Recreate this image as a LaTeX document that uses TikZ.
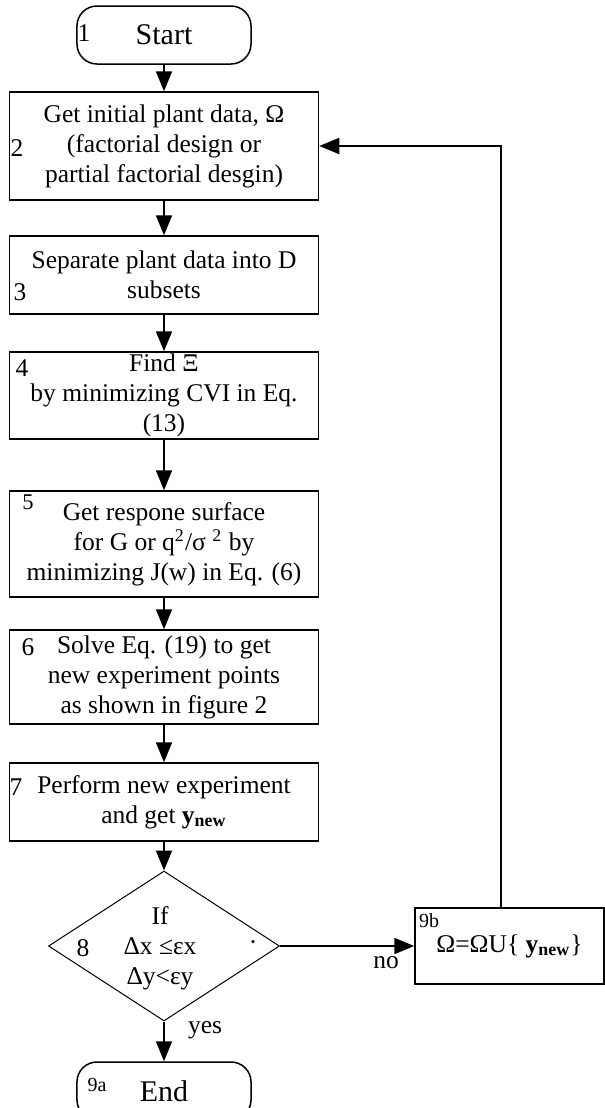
\documentclass[tikz,border=0pt]{standalone}
\usepackage{fontspec}
\setmainfont{Liberation Serif}
\usetikzlibrary{arrows.meta,shapes.geometric}

\begin{document}
\begin{tikzpicture}[x=0.4pt, y=-0.4pt,
    box/.style={draw, line width=0.6pt, inner sep=0pt, minimum width=123.6pt,
        align=center, font=\fontsize{10.2}{12}\selectfont},
    term/.style={draw, line width=0.6pt, rounded corners=8pt, inner sep=0pt,
        minimum width=69.6pt, minimum height=23.2pt, font=\fontsize{12}{14}\selectfont},
    num/.style={inner sep=0pt, font=\fontsize{10.2}{12}\selectfont},
    tag/.style={inner sep=0pt, font=\fontsize{8}{9}\selectfont},
    arr/.style={-{Triangle[length=8pt,width=6.4pt]}, line width=0.8pt}]
    \useasboundingbox[fill=white] (0,0) rectangle (605,1108);

    % Start / End
    \node[term] (start) at (164,35) {Start};
    \node[term] (stop) at (164,1091) {End};

    % Process steps
    \node[box, minimum height=43.2pt] (b2) at (164,146)
        {Get initial plant data, Ω\\(factorial design or\\partial factorial desgin)};
    \node[box, minimum height=31.2pt] (b3) at (164,275)
        {Separate plant data into D\\subsets};
    \node[box, minimum height=34.8pt] (b4) at (164,395.5)
        {Find Ξ\\by minimizing CVI in Eq.\\(13)};
    \node[box, minimum height=42.4pt] (b5) at (164,544)
        {Get respone surface\\for G or q\textsuperscript{2}/σ \textsuperscript{2} by\\minimizing J(w) in Eq. (6)};
    \node[box, minimum height=37.6pt] (b6) at (164,677)
        {Solve Eq. (19) to get\\new experiment points\\as shown in figure 2};
    \node[box, minimum height=31.2pt] (b7) at (164,802)
        {Perform new experiment\\and get \textbf{y}\textsubscript{\textbf{new}}};

    % Stopping test
    \node[draw, diamond, line width=0.4pt, inner sep=0pt,
        minimum width=92.4pt, minimum height=60pt] (dia) at (164,946) {};
    \node[num, align=center] (cond) at (160,948) {If\\Δx ≤εx\\Δy<εy};
    \node[num] (dot) at (253,946) {·};

    % Update of the data set
    \node[box, minimum width=75.6pt, minimum height=30.4pt] (b9b) at (509.5,946)
        {Ω=ΩU\{ \textbf{y}\textsubscript{\textbf{new}}\}};

    % Step numbers
    \node[num] (n1) at (84,33) {1};
    \node[num] (n2) at (17,148) {2};
    \node[num] (n3) at (20,292) {3};
    \node[num] (n4) at (22,368) {4};
    \node[tag, font=\fontsize{9}{10}\selectfont] (n5) at (28,502) {5};
    \node[num] (n6) at (28,647) {6};
    \node[num] (n7) at (16,787) {7};
    \node[num] (n8) at (83,948) {8};
    \node[tag] (n9a) at (97,1085) {9a};
    \node[tag] (n9b) at (429,921) {9b};

    % Connectors
    \foreach \a/\b in {start/b2, b2/b3, b3/b4, b4/b5, b5/b6, b6/b7, b7/dia, dia/stop}
        \draw[arr] (\a) -- (\b);
    \draw[arr] (dia) -- (b9b);
    \draw[arr] ([xshift=-3.6pt]b9b.north) |- (b2);

    \node[num] (yes) at (205,1030) {yes};
    \node[num] (no) at (386,963) {no};
\end{tikzpicture}
\end{document}
